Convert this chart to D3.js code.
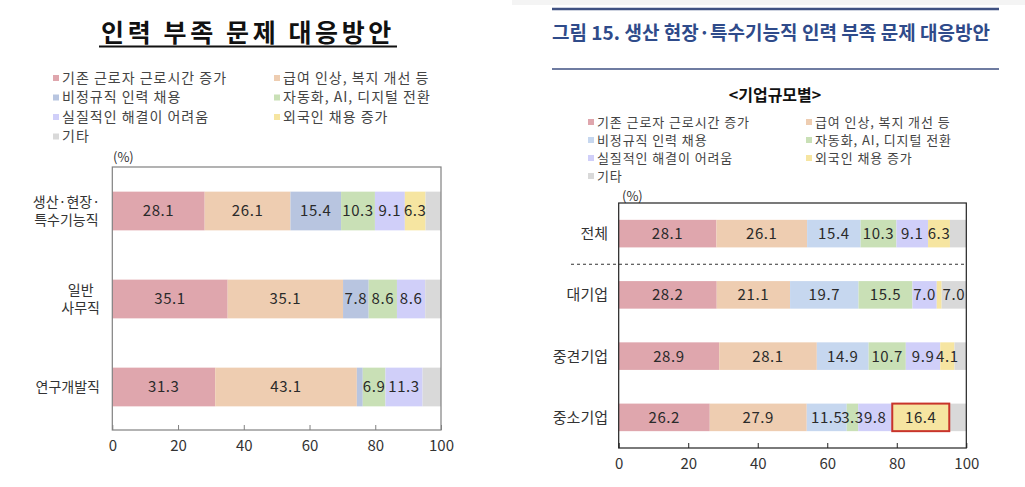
<!DOCTYPE html>
<html><head><meta charset="utf-8">
<script src="https://cdn.jsdelivr.net/npm/d3@7"></script>
<style>
body{margin:0;background:#fff;}
svg{display:block;font-family:"Noto Sans CJK KR","Noto Sans",sans-serif;}
</style></head>
<body><svg id="c" width="1025" height="487"></svg>
<script>
// ---------- data ----------
const series = ["기존 근로자 근로시간 증가","급여 인상, 복지 개선 등","비정규직 인력 채용","자동화, AI, 디지털 전환","실질적인 해결이 어려움","외국인 채용 증가","기타"];
const leftTitle = "인력 부족 문제 대응방안";
const leftCats = [["생산·현장·","특수기능직"],["일반","사무직"],["연구개발직"]];
const leftValues = [
  [28.1, 26.1, 15.4, 10.3, 9.1, 6.3, 4.7],
  [35.1, 35.1, 7.8, 8.6, 8.6, 0, 4.8],
  [31.3, 43.1, 1.8, 6.9, 11.3, 0, 5.6]
];
const rightTitle = "그림 15. 생산 현장·특수기능직 인력 부족 문제 대응방안";
const rightSubtitle = "<기업규모별>";
const rightCats = ["전체","대기업","중견기업","중소기업"];
const rightValues = [
  [28.1, 26.1, 15.4, 10.3, 9.1, 6.3, 4.7],
  [28.2, 21.1, 19.7, 15.5, 7.0, 1.4, 7.0],
  [28.9, 28.1, 14.9, 10.7, 9.9, 4.1, 3.4],
  [26.2, 27.9, 11.5, 3.3, 9.8, 16.4, 4.9]
];
const xTicks = [0, 20, 40, 60, 80, 100];
const unitLabel = "(%)";
const highlight = {cat: "중소기업", series: "외국인 채용 증가"};

// ---------- styles ----------
const colorsL = ["#dfa6ad","#eecdb1","#b8c5e0","#c9e0b6","#d0cff9","#f6e5a1","#d9d9d9"];
const colorsR = ["#dfa6ad","#eecdb1","#c6d7ef","#c9e0b6","#d0cff9","#f6e5a1","#d9d9d9"];
const showLabel = (s, v) => v >= 3.2 && !(s === "기타" && v < 6);

const svg = d3.select("#c");

function stackRows(cats, values){
  return cats.map((c, i) => {
    let acc = 0;
    return series.map((s, j) => {
      const v = values[i][j];
      const seg = {cat: c, key: Array.isArray(c) ? c.join("") : c, s, j, v, x0: acc, x1: acc + v};
      acc += v;
      return seg;
    });
  });
}

function legend(g, x1, x2, y0, dy, size, ls, colors, fill){
  series.forEach((s, i) => {
    const col = i % 2, row = Math.floor(i / 2);
    const x = col ? x2 : x1, y = y0 + row * dy;
    g.append("rect").attr("x", x - 9).attr("y", y - 3).attr("width", 6).attr("height", 6).attr("fill", colors[i]);
    g.append("text").attr("x", x).attr("y", y).attr("dy", "0.35em")
      .attr("font-size", size).attr("letter-spacing", ls).attr("fill", fill).text(s);
  });
}

// ================= LEFT CHART =================
{
  const g = svg.append("g");
  g.append("text").attr("x", 248).attr("y", 42).attr("text-anchor", "middle")
    .attr("font-size", 25).attr("font-weight", "bold").attr("letter-spacing", 3.6).attr("fill", "#111").text(leftTitle);
  g.append("line").attr("x1", 99).attr("x2", 397).attr("y1", 46.5).attr("y2", 46.5).attr("stroke", "#111").attr("stroke-width", 2);

  legend(g, 62, 283, 78, 19.5, 14, 1, colorsL, "#444");

  const x = d3.scaleLinear().domain([0, 100]).range([112.3, 441]);
  const keys = leftCats.map(c => c.join(""));
  const y = d3.scaleBand().domain(keys).range([167, 431]).paddingInner(0.56).paddingOuter(0.28);

  g.append("text").attr("x", 113).attr("y", 162).attr("font-size", 13).attr("fill", "#333").text(unitLabel);

  const rows = stackRows(leftCats, leftValues);
  rows.forEach(row => {
    row.forEach(d => {
      if (d.v <= 0) return;
      g.append("rect").attr("x", x(d.x0)).attr("y", y(d.key)).attr("width", x(d.x1) - x(d.x0))
        .attr("height", y.bandwidth()).attr("fill", colorsL[d.j]);
    });
    row.forEach(d => {
      if (!showLabel(d.s, d.v)) return;
      g.append("text").attr("x", (x(d.x0) + x(d.x1)) / 2).attr("y", y(d.key) + y.bandwidth() / 2)
        .attr("dy", "0.36em").attr("text-anchor", "middle").attr("font-size", 15).attr("letter-spacing", 0.6)
        .attr("fill", "#2a2a2a").text(d.v.toFixed(1));
    });
  });

  // frame
  g.append("rect").attr("x", x(0)).attr("y", 167).attr("width", x(100) - x(0)).attr("height", 430 - 167)
    .attr("fill", "none").attr("stroke", "#808080").attr("stroke-width", 1.2);

  const ax = g.append("g").attr("transform", "translate(0,430)")
    .call(d3.axisBottom(x).tickValues(xTicks).tickSizeInner(-5).tickSizeOuter(0).tickPadding(10));
  ax.select(".domain").remove();
  ax.selectAll("line").attr("stroke", "#808080");
  ax.selectAll("text").attr("font-size", 15).attr("fill", "#333").attr("font-family", "Noto Sans CJK KR");

  // y labels (block centered, right aligned at 100)
  leftCats.forEach((c, i) => {
    const k = keys[i];
    const cy = y(k) + y.bandwidth() / 2;
    const lh = 18;
    const tg = g.append("g");
    const texts = c.map((line, li) => tg.append("text").attr("y", cy + (li - (c.length - 1) / 2) * lh)
      .attr("dy", "0.36em").attr("text-anchor", "middle").attr("font-size", 14).attr("fill", "#333").text(line));
    const w = d3.max(texts, tt => tt.node().getComputedTextLength());
    texts.forEach(tt => tt.attr("x", 100 - w / 2));
  });
}

// ================= RIGHT CHART =================
{
  const g = svg.append("g");
  g.append("rect").attr("x", 512).attr("y", 0).attr("width", 513).attr("height", 5).attr("fill", "#f4f4f4");
  g.append("line").attr("x1", 552).attr("x2", 999).attr("y1", 9).attr("y2", 9).attr("stroke", "#3f5182").attr("stroke-width", 2.5);
  g.append("line").attr("x1", 552).attr("x2", 999).attr("y1", 69).attr("y2", 69).attr("stroke", "#3f5182").attr("stroke-width", 1.5);
  g.append("text").attr("x", 552).attr("y", 40).attr("font-size", 19).attr("font-weight", "bold")
    .attr("fill", "#2f4b8a").attr("textLength", 438).attr("lengthAdjust", "spacing").text(rightTitle);
  g.append("text").attr("x", 775).attr("y", 95).attr("dy", "0.36em").attr("text-anchor", "middle")
    .attr("font-size", 16).attr("font-weight", "bold").attr("fill", "#111").text(rightSubtitle);

  legend(g, 597, 815, 122, 18, 13, 0.9, colorsR, "#444");

  const x = d3.scaleLinear().domain([0, 100]).range([618.7, 966.3]);
  const y = d3.scaleBand().domain(rightCats).range([203, 448]).paddingInner(0.55).paddingOuter(0.275);

  g.append("text").attr("x", 622).attr("y", 201).attr("font-size", 13).attr("fill", "#333").text(unitLabel);

  const rows = stackRows(rightCats, rightValues);
  rows.forEach(row => {
    row.forEach(d => {
      if (d.v <= 0) return;
      g.append("rect").attr("x", x(d.x0)).attr("y", y(d.key)).attr("width", x(d.x1) - x(d.x0))
        .attr("height", y.bandwidth()).attr("fill", colorsR[d.j]);
    });
  });
  // highlight box
  rows.forEach(row => row.forEach(d => {
    if (d.cat === highlight.cat && d.s === highlight.series) {
      g.append("rect").attr("x", x(d.x0)).attr("y", y(d.key)).attr("width", x(d.x1) - x(d.x0))
        .attr("height", y.bandwidth()).attr("fill", "none").attr("stroke", "#c8342b").attr("stroke-width", 2);
    }
  }));
  rows.forEach(row => row.forEach(d => {
    if (!showLabel(d.s, d.v)) return;
    g.append("text").attr("x", (x(d.x0) + x(d.x1)) / 2).attr("y", y(d.key) + y.bandwidth() / 2)
      .attr("dy", "0.36em").attr("text-anchor", "middle").attr("font-size", 15).attr("letter-spacing", 0.6)
      .attr("fill", "#2a2a2a").text(d.v.toFixed(1));
  }));

  // dashed separator
  const sepY = (y(rightCats[0]) + y.bandwidth() + y(rightCats[1])) / 2;
  g.append("line").attr("x1", 571).attr("x2", x(100)).attr("y1", sepY).attr("y2", sepY)
    .attr("stroke", "#333").attr("stroke-width", 1).attr("stroke-dasharray", "3,3");

  g.append("rect").attr("x", x(0)).attr("y", 203).attr("width", x(100) - x(0)).attr("height", 448 - 203)
    .attr("fill", "none").attr("stroke", "#222").attr("stroke-width", 1.2);

  const ax = g.append("g").attr("transform", "translate(0,448)")
    .call(d3.axisBottom(x).tickValues(xTicks).tickSizeInner(-5).tickSizeOuter(0).tickPadding(10));
  ax.select(".domain").remove();
  ax.selectAll("line").attr("stroke", "#222");
  ax.selectAll("text").attr("font-size", 15).attr("fill", "#333").attr("font-family", "Noto Sans CJK KR");

  rightCats.forEach(c => {
    g.append("text").attr("x", 608).attr("y", y(c) + y.bandwidth() / 2).attr("dy", "0.36em")
      .attr("text-anchor", "end").attr("font-size", 15).attr("fill", "#333").text(c);
  });
}
</script></body></html>
